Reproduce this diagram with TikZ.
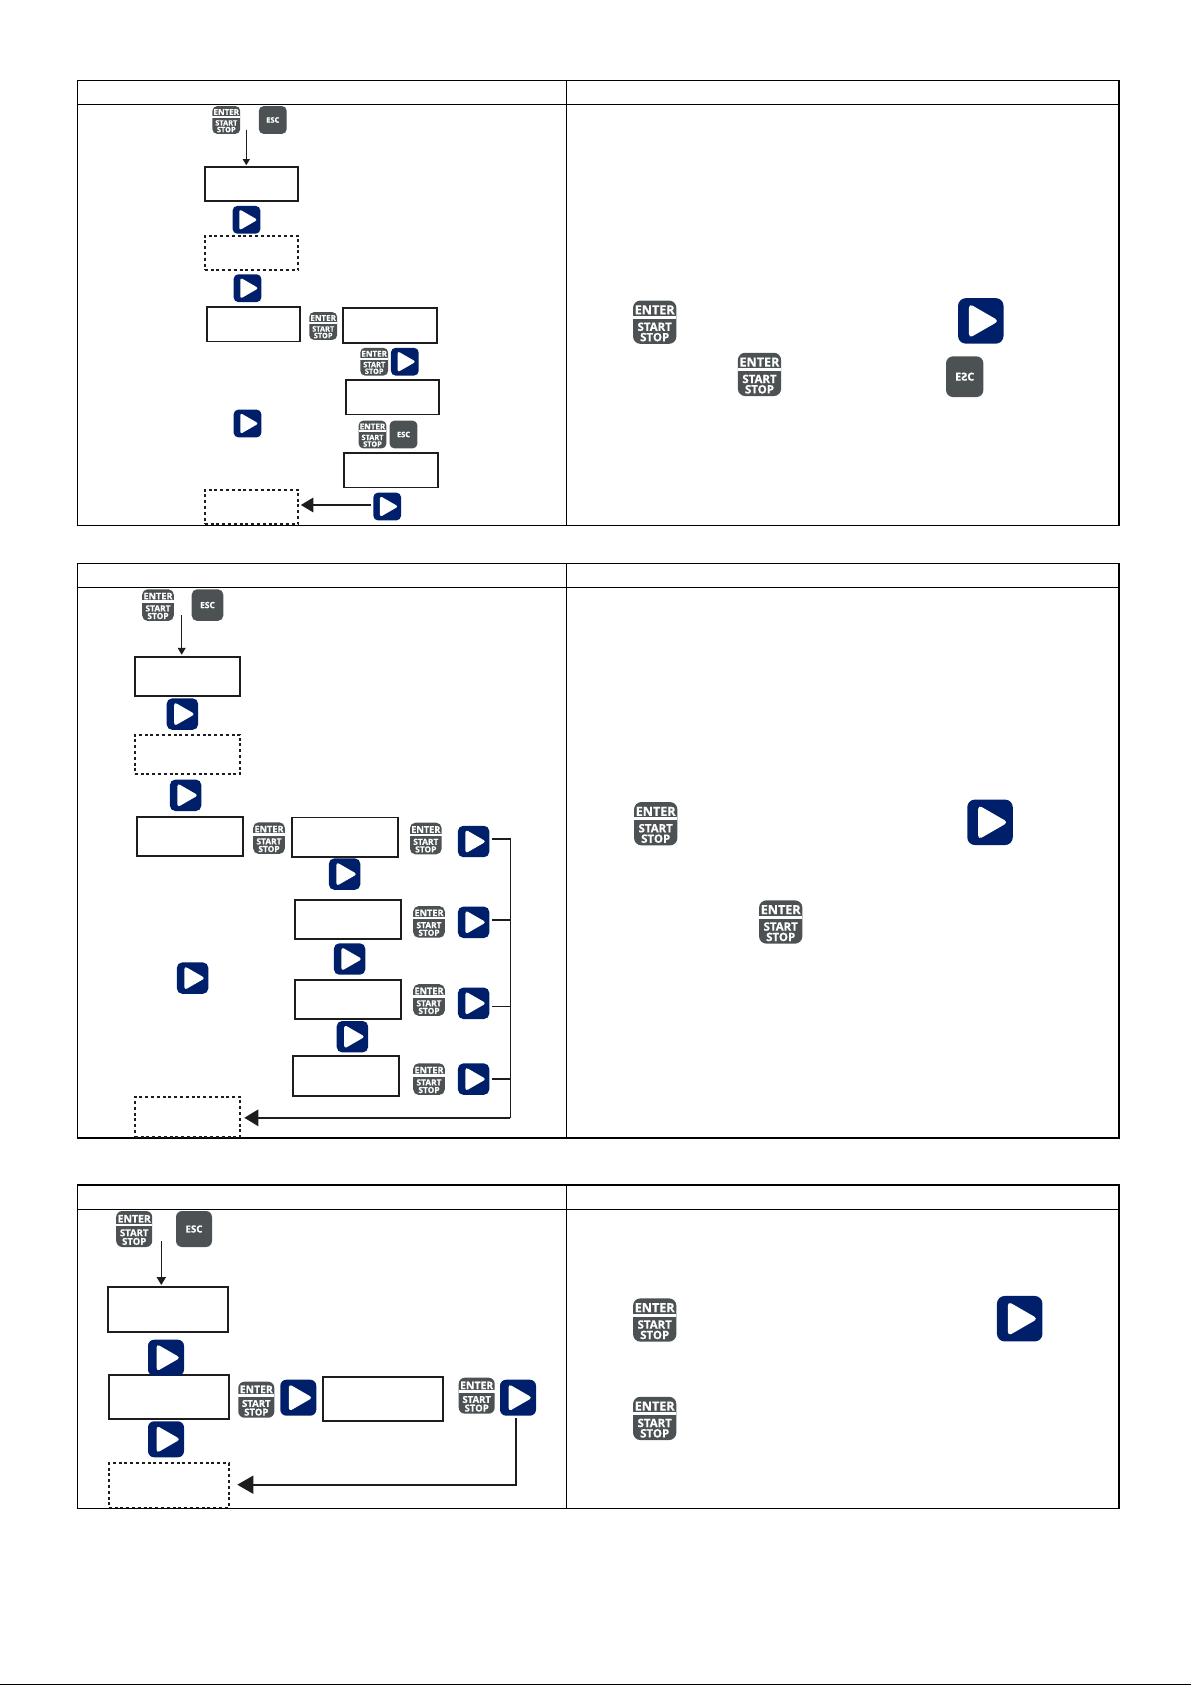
\documentclass[tikz,border=0pt]{standalone}
\usepackage{fontspec}
\usepackage{tikz}
\usetikzlibrary{arrows.meta}
\newfontfamily\keyfont[BoldFeatures={FakeBold=0.5}]{Open Sans}
\definecolor{keygray}{rgb}{0.30, 0.32, 0.33}
\definecolor{keyblue}{rgb}{0.0, 0.12, 0.42}
\definecolor{inkblack}{rgb}{0.12, 0.11, 0.12}

\tikzset{
  tableline/.style={line width=1.1pt, color=black},
  dispbox/.style={draw=inkblack, line width=1.7pt, fill=white, inner sep=0pt, outer sep=0pt},
  dashbox/.style={dispbox, dash pattern=on 3pt off 2.8pt},
  keybox/.style={inner sep=0pt, outer sep=0pt},
  keytext/.style={inner sep=0pt, text=white},
  thinarrow/.style={line width=0.9pt, color=inkblack, -{Triangle[width=7pt,length=6pt]}},
  bigarrow/.style={line width=1.5pt, color=inkblack, -{Triangle[width=14.5pt,length=12.5pt]}},
  branchline/.style={line width=1.2pt, color=inkblack}
}

% name, centre x, centre y, size
\newcommand{\enterkey}[4]{%
  \pgfmathsetmacro{\sizea}{0.29*#4}\pgfmathsetmacro{\sizeb}{0.265*#4}\pgfmathsetmacro{\rad}{0.17*#4}
  \node[keybox, fill=keygray, minimum size=#4pt, rounded corners=\rad pt] (#1) at (#2,#3) {};
  \fill[white] (#2-0.5*#4,#3-0.146*#4) rectangle (#2+0.5*#4,#3-0.077*#4);
  \node[keytext, font=\keyfont\bfseries\fontsize{\sizea}{\sizea}\selectfont] (#1-e) at (#2,#3-0.285*#4) {ENTER};
  \node[keytext, font=\keyfont\bfseries\fontsize{\sizeb}{\sizeb}\selectfont] (#1-a) at (#2,#3+0.105*#4) {START};
  \node[keytext, font=\keyfont\bfseries\fontsize{\sizeb}{\sizeb}\selectfont] (#1-o) at (#2,#3+0.345*#4) {STOP};
}
% name, centre x, centre y, size
\newcommand{\playkey}[4]{%
  \pgfmathsetmacro{\rad}{0.17*#4}\pgfmathsetmacro{\tiprad}{0.09*#4}
  \node[keybox, fill=keyblue, minimum size=#4pt, rounded corners=\rad pt] (#1) at (#2,#3) {};
  \fill[white, rounded corners=\tiprad pt] (#2-0.26*#4,#3-0.38*#4) -- (#2+0.4*#4,#3) -- (#2-0.26*#4,#3+0.38*#4) -- cycle;
}
% name, centre x, centre y, width, height, label
\newcommand{\esckey}[6]{%
  \pgfmathsetmacro{\sizea}{0.27*#5}\pgfmathsetmacro{\rad}{0.17*#5}
  \node[keybox, fill=keygray, minimum width=#4pt, minimum height=#5pt, rounded corners=\rad pt] (#1) at (#2,#3) {};
  \node[keytext, font=\keyfont\bfseries\fontsize{\sizea}{\sizea}\selectfont] (#1-t) at (#2,#3) {#6};
}

\begin{document}
\begin{tikzpicture}[x=1pt, y=-1pt]
  \useasboundingbox (0,0) rectangle (1191,1685);
  \fill[black] (0,1684) rectangle (1191,1685);

  % draws the tables
  \foreach \ya/\yb/\yc in {80.3/104.3/525.3, 563.4/587.5/1138, 1185/1209.3/1508.3} {
    \draw[tableline] (77.3,\ya) rectangle (1119,\yc);
    \draw[tableline] (77.3,\yb) -- (1119,\yb);
    \draw[tableline] (566.3,\ya) -- (566.3,\yc);
  }

  % draws the display boxes
  \foreach \nm/\cx/\cy/\wid/\hei in {a1/251.5/184/93.6/34.6, a3/253.8/324.2/93/34.3, a4/390/325.4/93.4/34.7, a5/392.8/397.2/93/34.3, a6/391/470.2/93.4/34.3,
      b1/187.5/676.5/105.6/39.5, b3/190/836.4/106.6/39.3, b4/344.7/837.3/106/39.8, b5/348.3/919.4/106/39.4, b6/347.7/999.4/106/39.3, b7/345.7/1075.9/106/40.2,
      c1/168/1309.2/120.6/45, c2/169/1397/120.6/44.6, c3/383/1399/120.6/44.6}
    \node[dispbox, minimum width=\wid pt, minimum height=\hei pt] (\nm) at (\cx,\cy) {};
  \foreach \nm/\cx/\cy/\wid/\hei in {a2/251.5/252.9/93.6/34.3, a7/251.5/506.9/93.6/34.3,
      b2/187.5/754.5/105.6/39.4, b8/187.5/1117/105.6/40,
      c4/169/1485.2/120.6/44.3}
    \node[dashbox, minimum width=\wid pt, minimum height=\hei pt] (\nm) at (\cx,\cy) {};

  % draws the first flow
  \coordinate (a0) at (246.3,130);
  \draw[thinarrow, shorten >=1.5pt] (a0) -- (a0 |- a1.north);
  \foreach \nm/\cx/\cy in {ae1/226.3/120, ae2/323.2/326, ae3/374.2/361.7, ae4/372.5/434.5}
    {\enterkey{\nm}{\cx}{\cy}{27.8}}
  \foreach \nm/\cx/\cy in {ap1/246.5/219.8, ap2/247.5/288.2, ap3/404.8/361.7, ap4/247.5/423.5, ap5/387.2/506.5}
    {\playkey{\nm}{\cx}{\cy}{27.8}}
  \esckey{as1}{272.8}{120}{27.8}{27.8}{ESC}
  \esckey{as2}{403.5}{434.5}{27.8}{27.8}{ESC}
  \coordinate (ah) at (371,505);
  \draw[bigarrow, shorten >=2.5pt] (ah) -- (a7.east |- ah);

  % draws the second flow
  \coordinate (b0) at (181.7,615);
  \draw[thinarrow, -{Triangle[width=8pt,length=7pt]}, shorten >=2pt] (b0) -- (b0 |- b1.north);
  \foreach \nm/\cx/\cy in {be1/158/605.1, be2/269/838.1, be3/425.8/838.5, be4/429/921.9, be5/429/1000, be6/429/1079.1}
    {\enterkey{\nm}{\cx}{\cy}{31.6}}
  \foreach \nm/\cx/\cy in {bp1/182.4/714.1, bp2/185.6/795.3, bp3/344.6/874.1, bp4/349.6/959, bp5/352.4/1036.7, bp6/192.6/978.1,
      bq1/473.6/841.5, bq2/473.6/922.3, bq3/473.6/1003.3, bq4/473.6/1079.1}
    {\playkey{\nm}{\cx}{\cy}{31.4}}
  \esckey{bs1}{207.5}{605.1}{31.6}{31.6}{ESC}
  % draws the collecting line
  \coordinate (bc) at (510.3,1117.8);
  \coordinate (bt) at (491.7,838.9);
  \coordinate (bu) at (491.7,920);
  \coordinate (bv) at (491.7,1006.4);
  \coordinate (bw) at (491.7,1078.8);
  \draw[branchline] (bt) -- (bt -| bc) -- (bc);
  \draw[branchline, line width=1.5pt] (bu) -- (bu -| bc);
  \draw[branchline, line width=0.7pt] (bv) -- (bv -| bc);
  \draw[branchline, line width=1.5pt] (bw) -- (bw -| bc);
  \draw[bigarrow, -{Triangle[width=16.5pt,length=14pt]}, shorten >=4pt] (bc) -- (b8.east |- bc);

  % draws the third flow
  \coordinate (c0) at (161.3,1241);
  \draw[thinarrow, -{Triangle[width=9.3pt,length=8pt]}, shorten >=1.7pt] (c0) -- (c0 |- c1.north);
  \foreach \nm/\cx/\cy in {ce1/134.2/1229, ce2/256.3/1399.7, ce3/476.7/1395.7}
    {\enterkey{\nm}{\cx}{\cy}{36}}
  \foreach \nm/\cx/\cy in {cp1/166/1357.7, cp2/298.3/1397.7, cp3/518/1397.7, cp4/166/1439.3}
    {\playkey{\nm}{\cx}{\cy}{36}}
  \esckey{cs1}{194}{1229}{36}{36}{ESC}
  \coordinate (cd) at (516,1484.7);
  \coordinate (ct) at (516,1417.7);
  \draw[bigarrow, -{Triangle[width=18pt,length=16pt]}, shorten >=8pt, line width=1.6pt] (ct) -- (cd) -- (c4.east |- cd);

  % draws the keys of the right column
  \foreach \nm/\cx/\cy in {de1/654.7/322.2, de2/759.5/374.4, de3/655.7/823.7, de4/780.7/922, de5/654.7/1320, de6/654.7/1418.4}
    {\enterkey{\nm}{\cx}{\cy}{43.3}}
  \foreach \nm/\cx/\cy in {dp1/980.8/320.9, dp2/990/822.3, dp3/1019.7/1318.7}
    {\playkey{\nm}{\cx}{\cy}{45.5}}
  \esckey{ds1}{964.7}{376.7}{37.3}{40.7}{E\reflectbox{S}C}
\end{tikzpicture}
\end{document}
